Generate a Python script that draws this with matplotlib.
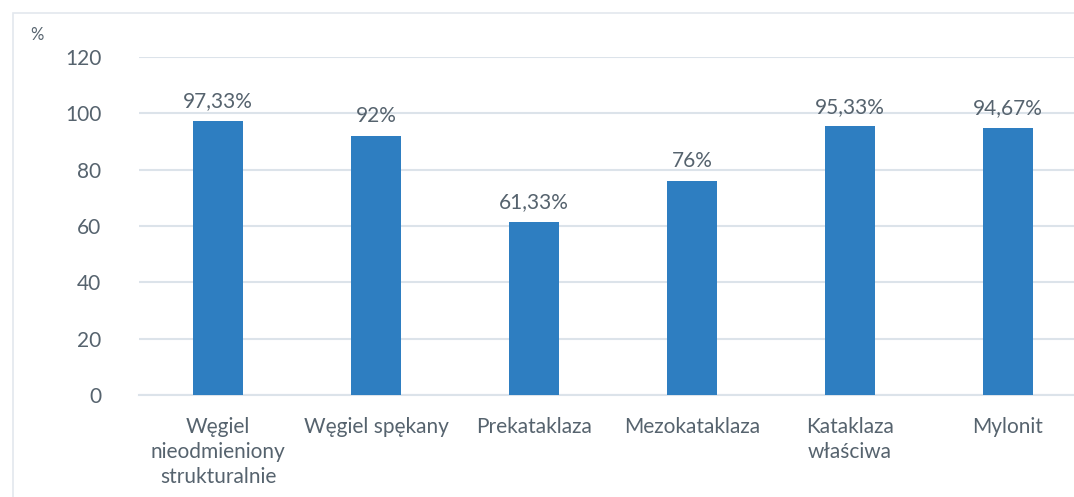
import matplotlib
matplotlib.use("Agg")
import matplotlib.pyplot as plt
from matplotlib.patches import Rectangle

categories = [
    "Węgiel\nnieodmieniony\nstrukturalnie",
    "Węgiel spękany",
    "Prekataklaza",
    "Mezokataklaza",
    "Kataklaza\nwłaściwa",
    "Mylonit",
]
values = [97.33, 92, 61.33, 76, 95.33, 94.67]
value_labels = ["97,33%", "92%", "61,33%", "76%", "95,33%", "94,67%"]
y_ticks = [0, 20, 40, 60, 80, 100, 120]

BAR = "#2e7ec1"
TEXT = "#56636e"
GRID = "#dce3ea"

plt.rcParams["font.family"] = ["Lato", "DejaVu Sans"]

fig = plt.figure(figsize=(10.74, 4.97), dpi=100)

# chart border (cropped on the right/bottom like the scan)
fig.patches.append(Rectangle((13 / 1074, -0.1), 1.2, (497 - 13) / 497 + 0.1,
                             transform=fig.transFigure, fill=False,
                             edgecolor="#e3e8ee", lw=1.2))

ax = fig.add_axes([139 / 1074, 1 - 395 / 497, 948 / 1074, (395 - 57) / 497])
x = range(len(categories))
ax.bar(x, values, width=0.32, color=BAR, zorder=3)

for xi, v, lab in zip(x, values, value_labels):
    ax.text(xi, v + 3.5, lab, ha="center", va="bottom", fontsize=15, color=TEXT)

ax.set_xlim(-0.5, len(categories) - 0.5)
ax.set_ylim(0, 120)
ax.set_yticks(y_ticks)
ax.set_yticklabels([str(t) for t in y_ticks], fontsize=15, color=TEXT)
ax.set_xticks(list(x))
ax.set_xticklabels(categories, fontsize=15, color=TEXT, linespacing=1.3)
ax.tick_params(axis="both", length=0)
ax.tick_params(axis="y", pad=27)
ax.tick_params(axis="x", pad=16)
ax.yaxis.grid(True, color=GRID, lw=1.5, zorder=0)
for s in ["top", "right", "left"]:
    ax.spines[s].set_visible(False)
ax.spines["bottom"].set_color(GRID)
ax.spines["bottom"].set_linewidth(1.5)

fig.text(30 / 1074, 1 - 35 / 497, "%", fontsize=12, color=TEXT, va="center")

fig.savefig("out.png", dpi=100)
